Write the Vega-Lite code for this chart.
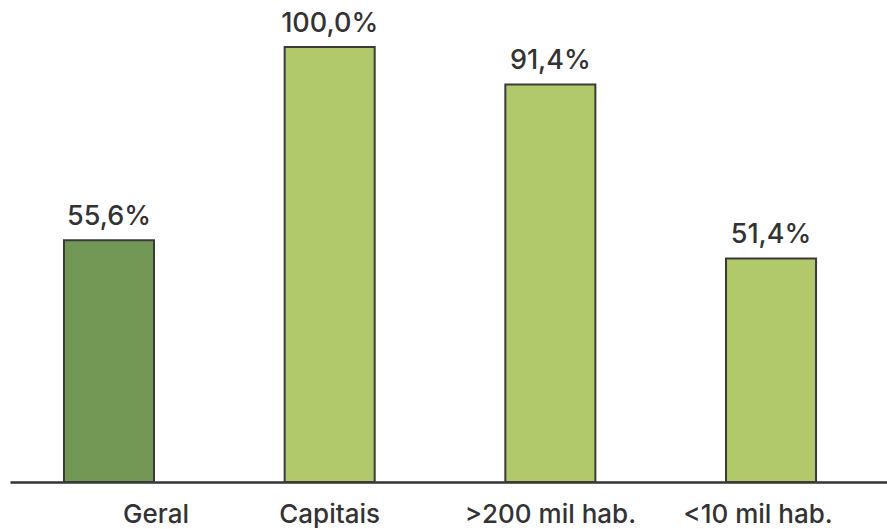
{
  "$schema": "https://vega.github.io/schema/vega-lite/v6.json",
  "autosize": "none",
  "width": 877,
  "height": 482,
  "padding": {"left": 10, "top": 0, "right": 0, "bottom": 47},
  "config": {
    "view": {"stroke": null},
    "locale": {"number": {"decimal": ",", "thousands": ".", "grouping": [3], "currency": ["R$", ""]}},
    "font": "Inter"
  },
  "data": {"values": [
    {"categoria": "Geral", "valor": 0.556, "tipo": "geral"},
    {"categoria": "Capitais", "valor": 1.0, "tipo": "grupo"},
    {"categoria": ">200 mil hab.", "valor": 0.914, "tipo": "grupo"},
    {"categoria": "<10 mil hab.", "valor": 0.514, "tipo": "grupo"}
  ]},
  "encoding": {
    "x": {
      "field": "categoria", "type": "nominal", "sort": null,
      "scale": {"paddingInner": 0.592, "paddingOuter": 0.283, "align": 0.432},
      "axis": {
        "title": null, "labelAngle": 0, "ticks": false,
        "domainColor": "#333333", "domainWidth": 2.5,
        "labelFontSize": 26, "labelColor": "#333333", "labelPadding": 19,
        "labelFont": "Inter", "labelFontWeight": 500,
        "labelOffset": {"expr": "datum.value == 'Geral' ? 47 : datum.value == '<10 mil hab.' ? -13 : 0"}
      }
    },
    "y": {
      "field": "valor", "type": "quantitative",
      "scale": {"domain": [0, 1.108], "nice": false},
      "axis": null
    }
  },
  "layer": [
    {
      "mark": {"type": "bar", "stroke": "#3a3a3a", "strokeWidth": 2},
      "encoding": {
        "color": {
          "field": "tipo", "type": "nominal",
          "scale": {"domain": ["geral", "grupo"], "range": ["#739856", "#b1c96b"]},
          "legend": null
        }
      }
    },
    {
      "mark": {"type": "text", "baseline": "bottom", "dy": -9, "fontSize": 27, "fontWeight": 500, "color": "#333333"},
      "encoding": {
        "text": {"field": "valor", "type": "quantitative", "format": ".1%"}
      }
    }
  ]
}
